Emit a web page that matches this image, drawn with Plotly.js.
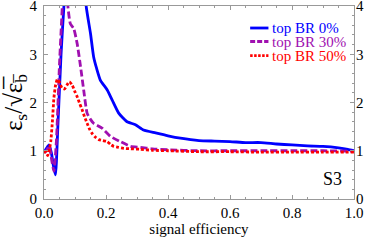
<!DOCTYPE html>
<html>
<head>
<meta charset="utf-8">
<script src="https://cdn.plot.ly/plotly-3.0.1.min.js"></script>
<style>html,body{margin:0;padding:0;background:#fff;}#chart{width:365px;height:245px;}</style>
</head>
<body>
<div id="chart"></div>
<script>
// Series: top BR 0%
const xBR0 = [0, 0.008, 0.016, 0.024, 0.03, 0.037, 0.045, 0.055, 0.064, 0.1, 0.136, 0.15, 0.16, 0.17, 0.182, 0.204, 0.22, 0.241, 0.268, 0.295, 0.321, 0.36, 0.4, 0.44, 0.5, 0.55, 0.6, 0.65, 0.7, 0.75, 0.8, 0.85, 0.9, 0.95, 0.98, 1.0];
const yBR0 = [0.96, 1.05, 1.12, 0.95, 0.7, 0.5, 1.55, 3.0, 3.97, 7.0, 4.0, 3.43, 2.95, 2.7, 2.46, 2.26, 2.05, 1.78, 1.6, 1.54, 1.43, 1.37, 1.31, 1.26, 1.21, 1.2, 1.19, 1.17, 1.17, 1.14, 1.12, 1.1, 1.09, 1.06, 1.03, 1.0];
// Series: top BR 30%
const xBR30 = [0, 0.008, 0.017, 0.025, 0.032, 0.04, 0.05, 0.059, 0.068, 0.077, 0.085, 0.096, 0.107, 0.118, 0.128, 0.139, 0.15, 0.16, 0.187, 0.214, 0.246, 0.279, 0.311, 0.35, 0.4, 0.5, 0.6, 0.7, 0.8, 0.9, 1.0];
const yBR30 = [0.96, 1.0, 1.1, 0.8, 0.58, 1.2, 2.8, 4.0, 5.5, 4.0, 3.63, 3.53, 3.22, 2.74, 2.26, 1.78, 1.65, 1.57, 1.47, 1.3, 1.19, 1.09, 1.07, 1.04, 1.02, 1.0, 1.0, 1.0, 1.0, 1.0, 0.99];
// Series: top BR 50%
const xBR50 = [0, 0.006, 0.012, 0.018, 0.022, 0.027, 0.032, 0.037, 0.043, 0.05, 0.058, 0.066, 0.074, 0.082, 0.091, 0.1, 0.107, 0.115, 0.123, 0.131, 0.139, 0.147, 0.155, 0.166, 0.177, 0.19, 0.204, 0.215, 0.225, 0.24, 0.257, 0.28, 0.311, 0.35, 0.4, 0.5, 0.6, 0.7, 0.8, 0.9, 1.0];
const yBR50 = [0.96, 0.98, 0.9, 1.05, 1.2, 1.6, 2.1, 2.35, 2.48, 2.42, 2.3, 2.28, 2.36, 2.43, 2.36, 2.22, 2.12, 1.98, 1.85, 1.7, 1.57, 1.45, 1.36, 1.28, 1.23, 1.21, 1.19, 1.13, 1.09, 1.07, 1.05, 1.04, 1.03, 1.01, 1.0, 0.98, 0.98, 0.97, 0.97, 0.97, 0.97];

const seriesNames = ['top BR 0%', 'top BR 30%', 'top BR 50%'];
const xTickVals = [0, 0.2, 0.4, 0.6, 0.8, 1.0];
const xTickText = ['0.0', '0.2', '0.4', '0.6', '0.8', '1.0'];
const yTickVals = [0, 1, 2, 3, 4];
const yTickText = ['0', '1', '2', '3', '4'];

const colors = ['#0000ff', '#a010b0', '#ff0000'];
const dashes = ['solid', '7px,3px', '3px,2px'];
const serif = '"Liberation Serif", "Times New Roman", Times, serif';

const xs = [xBR0, xBR30, xBR50];
const ys = [yBR0, yBR30, yBR50];
const traces = xs.map((x, i) => ({
  x: x, y: ys[i], name: seriesNames[i], mode: 'lines', showlegend: false,
  line: {color: colors[i], width: 2.8, dash: dashes[i], shape: 'spline', smoothing: 0.5}
}));
// carrier for the right-hand tick labels (invisible)
traces.push({x: xBR0, y: yBR0, yaxis: 'y2', mode: 'lines', line: {width: 0, color: 'rgba(0,0,0,0)'}, showlegend: false, hoverinfo: 'skip'});

// legend drawn as key samples + coloured labels (paper coordinates)
const legRowY = [0.886, 0.816, 0.743];
const legShapes = seriesNames.map((n, i) => ({
  type: 'line', xref: 'paper', yref: 'paper', x0: 0.665, x1: 0.724, y0: legRowY[i], y1: legRowY[i],
  line: {color: colors[i], width: 2.8, dash: i === 0 ? 'solid' : (i === 1 ? '5px,2px' : '2.5px,1.5px')}
}));
const legAnn = seriesNames.map((n, i) => ({
  xref: 'paper', yref: 'paper', x: 0.728, y: legRowY[i], xanchor: 'left', yanchor: 'middle',
  text: n, showarrow: false, font: {family: serif, size: 15, color: colors[i]}
}));

const axisCommon = {
  showgrid: false, zeroline: false,
  showline: true, linecolor: '#999999', linewidth: 1, mirror: 'ticks',
  ticks: 'inside', ticklen: 4, tickcolor: '#999999', tickwidth: 1,
  ticklabeloverflow: 'allow',
  tickfont: {family: serif, size: 15, color: '#000'}
};

const layout = {
  width: 365, height: 245,
  margin: {l: 43.5, r: 11, t: 5.5, b: 45.5},
  paper_bgcolor: '#fff', plot_bgcolor: '#fff',
  font: {family: serif},
  showlegend: false,
  xaxis: Object.assign({}, axisCommon, {
    range: [0, 1], tickvals: xTickVals, ticktext: xTickText,
    minor: {dtick: 0.05, ticks: 'inside', ticklen: 2, tickcolor: '#999999'},
    title: {text: 'signal efficiency', font: {family: serif, size: 15, color: '#000'}, standoff: 3}
  }),
  yaxis: Object.assign({}, axisCommon, {
    range: [0, 4], tickvals: yTickVals, ticktext: yTickText,
    minor: {dtick: 0.2, ticks: 'inside', ticklen: 2, tickcolor: '#999999'},
    ticklabelstandoff: 3,
    title: {text: 'ε<sub>s</sub>/√ε̅<sub>b̅</sub>', font: {family: serif, size: 25, color: '#000'}, standoff: 0}
  }),
  yaxis2: {
    overlaying: 'y', side: 'right', range: [0, 4], tickvals: yTickVals, ticktext: yTickText,
    showgrid: false, zeroline: false, showline: false, ticks: '', ticklabelstandoff: 1,
    ticklabeloverflow: 'allow',
    tickfont: {family: serif, size: 15, color: '#000'}
  },
  shapes: legShapes,
  annotations: legAnn.concat([
    {x: 0.93, y: 0.41, xref: 'x', yref: 'y', text: 'S3', showarrow: false,
     font: {family: serif, size: 18, color: '#000'}}
  ])
};

Plotly.newPlot('chart', traces, layout, {displayModeBar: false, staticPlot: true});
</script>
</body>
</html>
